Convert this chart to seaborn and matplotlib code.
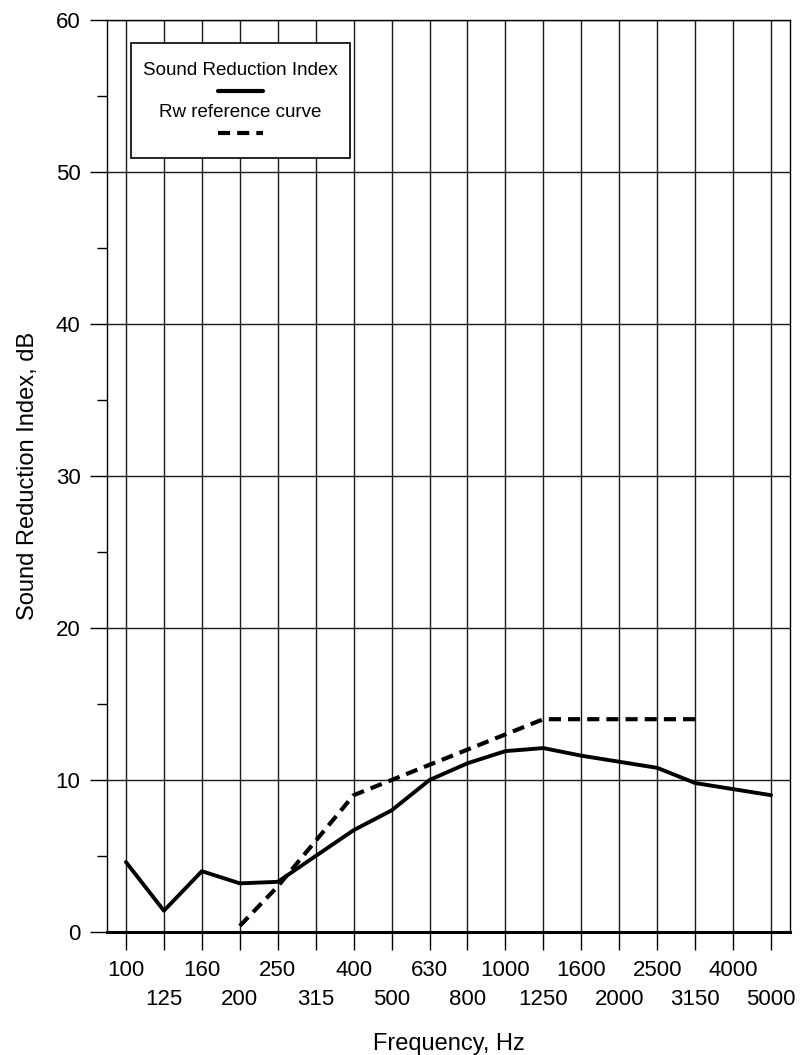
import numpy as np
import pandas as pd
import matplotlib
matplotlib.use("Agg")
import matplotlib.pyplot as plt
import seaborn as sns
from matplotlib.ticker import MultipleLocator
from matplotlib.lines import Line2D
from matplotlib.offsetbox import AnchoredOffsetbox, VPacker, TextArea, DrawingArea

# third-octave bands
freqs = [100, 125, 160, 200, 250, 315, 400, 500, 630, 800,
         1000, 1250, 1600, 2000, 2500, 3150, 4000, 5000]
# measured sound reduction index, dB
sri = [4.6, 1.4, 4.0, 3.2, 3.3, 5.0, 6.7, 8.0, 10.0, 11.1,
       11.9, 12.1, 11.6, 11.2, 10.8, 9.8, 9.4, 9.0]
# shifted Rw reference curve, dB
ref_freqs = [200, 250, 315, 400, 500, 630, 800, 1000, 1250, 1600, 2000, 2500, 3150]
ref_vals = [0.4, 3, 6, 9, 10, 11, 12, 13, 14, 14, 14, 14, 14]

df_sri = pd.DataFrame({"pos": range(len(freqs)), "R": sri})
df_ref = pd.DataFrame({"pos": [freqs.index(f) for f in ref_freqs], "R": ref_vals})

sns.set_theme(style="white")
plt.rcParams['font.family'] = ['Liberation Sans', 'DejaVu Sans']

fig = plt.figure(figsize=(8.05, 10.55), dpi=100)
ax = fig.add_axes([107 / 805, 123 / 1055, 683 / 805, 912 / 1055])

sns.lineplot(data=df_sri, x="pos", y="R", ax=ax, color="black", lw=2.8, legend=False)
sns.lineplot(data=df_ref, x="pos", y="R", ax=ax, color="black", lw=3.0, legend=False,
             linestyle=(0, (2.9, 1.7)))

ax.set_xlim(-0.5, 17.5)
ax.set_ylim(0, 60)

# labels alternate between two rows: even bands on top row, odd bands below
pos = list(range(len(freqs)))
ax.set_xticks(pos[0::2])
ax.set_xticklabels([str(f) for f in freqs[0::2]])
ax.set_xticks(pos[1::2], minor=True)
ax.set_xticklabels([str(f) for f in freqs[1::2]], minor=True)
ax.set_yticks(range(0, 61, 10))
ax.yaxis.set_minor_locator(MultipleLocator(5))

ax.set_axisbelow(True)
ax.grid(True, which='major', color='#1a1a1a', lw=1.0)
ax.xaxis.grid(True, which='minor', color='#1a1a1a', lw=1.0)

ax.tick_params(axis='x', which='major', bottom=True, direction='out', length=13, width=1,
               pad=7, labelsize=16, color='black', labelcolor='black')
ax.tick_params(axis='x', which='minor', bottom=True, direction='out', length=13, width=1,
               pad=28, labelsize=16, color='black', labelcolor='black')
ax.tick_params(axis='y', which='major', left=True, direction='out', length=12, width=1,
               pad=7, labelsize=16, color='black', labelcolor='black')
ax.tick_params(axis='y', which='minor', left=True, direction='out', length=7, width=1, color='black')

for side in ['left', 'right', 'top']:
    ax.spines[side].set_color('black')
    ax.spines[side].set_linewidth(1.0)
ax.spines['bottom'].set_color('black')
ax.spines['bottom'].set_linewidth(2.2)

ax.set_xlabel("Frequency, Hz", fontsize=17, color='black')
ax.set_ylabel("Sound Reduction Index, dB", fontsize=17, color='black')
ax.xaxis.set_label_coords(0.5, -0.111)
ax.yaxis.set_label_coords(-0.100, 0.5)

# legend with the line sample under each label
t1 = TextArea("Sound Reduction Index", textprops=dict(fontsize=13.5, color='black'))
da1 = DrawingArea(32, 8)
da1.add_artist(Line2D([0, 32], [4, 4], color='black', lw=3, solid_capstyle='round'))
t2 = TextArea("Rw reference curve", textprops=dict(fontsize=13.5, color='black'))
da2 = DrawingArea(32, 8)
da2.add_artist(Line2D([0, 32], [4, 4], color='black', lw=3, linestyle=(0, (2.9, 1.7))))
top_gap = DrawingArea(1, 0)
bottom_gap = DrawingArea(1, 0)
box = VPacker(children=[top_gap, t1, da1, t2, da2, bottom_gap], align='center', pad=0, sep=5)
leg = AnchoredOffsetbox(loc='upper left', child=box, pad=0.65, borderpad=0, frameon=True,
                        prop=dict(size=13.5), bbox_to_anchor=(0.035, 0.975),
                        bbox_transform=ax.transAxes)
leg.patch.set_boxstyle('square', pad=0)
leg.patch.set_edgecolor('black')
leg.patch.set_linewidth(1.2)
leg.patch.set_facecolor('white')
ax.add_artist(leg)

fig.savefig("out.png", dpi=100)
